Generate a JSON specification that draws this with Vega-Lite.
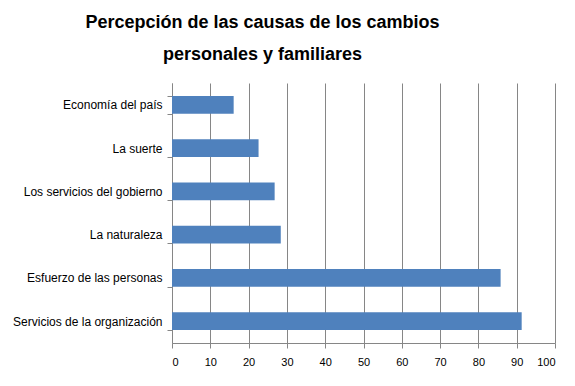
{
  "$schema": "https://vega.github.io/schema/vega-lite/v6.json",
  "width": 383,
  "height": 260,
  "autosize": {"type": "none"},
  "padding": {"left": 172, "top": 83, "right": 20, "bottom": 43},
  "background": "white",
  "title": {
    "text": ["Percepción de las causas de los cambios", "personales y familiares"],
    "font": "Liberation Sans",
    "fontSize": 18,
    "fontWeight": "bold",
    "color": "black",
    "anchor": "middle",
    "frame": "group",
    "dx": -101,
    "offset": 13,
    "lineHeight": 32
  },
  "data": {
    "values": [
      {"causa": "Economía del país", "valor": 16.1},
      {"causa": "La suerte", "valor": 22.6},
      {"causa": "Los servicios del gobierno", "valor": 26.8},
      {"causa": "La naturaleza", "valor": 28.4},
      {"causa": "Esfuerzo de las personas", "valor": 85.8},
      {"causa": "Servicios de la organización", "valor": 91.3}
    ]
  },
  "mark": {"type": "bar", "color": "#4F81BD"},
  "encoding": {
    "y": {
      "field": "causa",
      "type": "nominal",
      "sort": null,
      "scale": {"paddingInner": 0.59, "paddingOuter": 0.3},
      "axis": {
        "title": null,
        "tickBand": "extent",
        "domainColor": "#868686",
        "tickColor": "#868686",
        "tickSize": 5,
        "labelFont": "Liberation Sans",
        "labelFontSize": 12,
        "labelColor": "black",
        "labelPadding": 5,
        "grid": false
      }
    },
    "x": {
      "field": "valor",
      "type": "quantitative",
      "scale": {"domain": [0, 100], "nice": false},
      "axis": {
        "title": null,
        "values": [0, 10, 20, 30, 40, 50, 60, 70, 80, 90, 100],
        "grid": true,
        "gridColor": "#868686",
        "gridOpacity": 1,
        "domainColor": "#868686",
        "tickColor": "#868686",
        "tickSize": 5,
        "labelFont": "Liberation Sans",
        "labelFontSize": 11,
        "labelColor": "black",
        "labelPadding": 8
      }
    }
  },
  "config": {"view": {"stroke": null}}
}
